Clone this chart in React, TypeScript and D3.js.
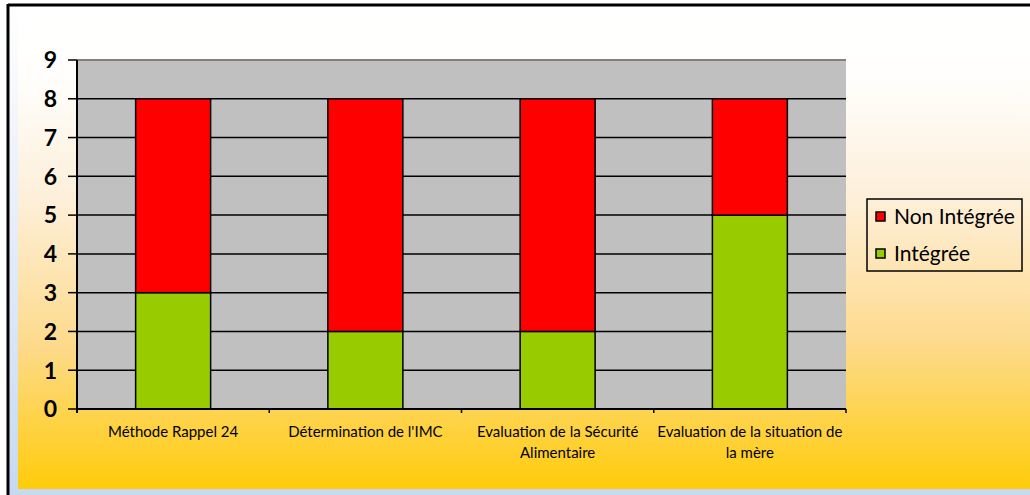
import React from "react";
import * as d3 from "d3";

const categories = [
  "Méthode Rappel 24",
  "Détermination de l'IMC",
  "Evaluation de la Sécurité Alimentaire",
  "Evaluation de la situation de la mère",
];
const integree = [3, 2, 2, 5];
const nonIntegree = [5, 6, 6, 3];
const seriesNames = ["Intégrée", "Non Intégrée"];
const seriesColors = ["#99cc00", "#ff0000"];
const yTicks = [0, 1, 2, 3, 4, 5, 6, 7, 8, 9];

const W = 1030;
const H = 495;
const FONT = "Lato, 'Open Sans', sans-serif";

const plot = { left: 77, right: 846, top: 60, bottom: 409 };

function wrapLabel(text: string, maxWidth: number, font: string): string[] {
  const canvas = document.createElement("canvas");
  const ctx = canvas.getContext("2d");
  if (!ctx) return [text];
  ctx.font = font;
  const words = text.split(" ");
  const lines: string[] = [];
  let line = "";
  for (const w of words) {
    const test = line ? line + " " + w : w;
    if (ctx.measureText(test).width > maxWidth && line) {
      lines.push(line);
      line = w;
    } else {
      line = test;
    }
  }
  if (line) lines.push(line);
  return lines;
}

export default function App() {
  const x = d3
    .scaleBand<string>()
    .domain(categories)
    .range([plot.left, plot.right])
    .paddingInner(0.61)
    .paddingOuter(0.305);
  const y = d3.scaleLinear().domain([0, 9]).range([plot.bottom, plot.top]);

  const rows = categories.map((c, i) => ({ cat: c, integree: integree[i], nonIntegree: nonIntegree[i] }));
  const stacked = d3.stack<any>().keys(["integree", "nonIntegree"])(rows);

  const step = x.step();
  const labelSize = 15;
  const labelFont = `${labelSize}px Lato`;

  return (
    <svg width={W} height={H} style={{ position: "absolute", left: 0, top: 0 }}>
      <defs>
        <linearGradient id="frameGrad" x1="0" y1="0" x2="0" y2="1">
          <stop offset="0" stopColor="#ffffff" />
          <stop offset="1" stopColor="#c6d9f1" />
        </linearGradient>
        <linearGradient id="panelGrad" x1="0" y1="0" x2="0" y2="1">
          <stop offset="0" stopColor="#ffffff" />
          <stop offset="0.15" stopColor="#fffefc" />
          <stop offset="0.4" stopColor="#fdefd9" />
          <stop offset="0.7" stopColor="#fdda8c" />
          <stop offset="1" stopColor="#ffcc0a" />
        </linearGradient>
      </defs>
      <rect x={0} y={0} width={W} height={H} fill="#ffffff" />
      <rect x={8} y={5} width={W - 8} height={H - 5} fill="url(#frameGrad)" />
      <rect x={18} y={5} width={W - 18} height={489 - 5} fill="url(#panelGrad)" />
      <line x1={8} y1={5} x2={W} y2={5} stroke="#000" strokeWidth={3} />
      <line x1={8} y1={4} x2={8} y2={H} stroke="#000" strokeWidth={3} />

      {/* plot area */}
      <rect
        x={plot.left}
        y={plot.top}
        width={plot.right - plot.left}
        height={plot.bottom - plot.top}
        fill="#c0c0c0"
      />
      {yTicks.slice(1, -1).map((t) => (
        <line key={t} x1={plot.left} x2={plot.right} y1={y(t)} y2={y(t)} stroke="#000" strokeWidth={1.5} />
      ))}
      <line x1={plot.left} x2={plot.right} y1={plot.top} y2={plot.top} stroke="#808080" strokeWidth={2} />

      {/* bars */}
      {stacked.map((s, si) =>
        s.map((d, i) => (
          <rect
            key={`${si}-${i}`}
            x={x(categories[i])}
            y={y(d[1])}
            width={x.bandwidth()}
            height={y(d[0]) - y(d[1])}
            fill={seriesColors[si]}
            stroke="#000"
            strokeWidth={1.5}
          />
        ))
      )}

      {/* y axis */}
      <line x1={plot.left} x2={plot.left} y1={plot.top} y2={plot.bottom + 4} stroke="#000" strokeWidth={2} />
      {yTicks.map((t) => (
        <g key={t}>
          <line x1={plot.left - 9} x2={plot.left} y1={y(t)} y2={y(t)} stroke="#000" strokeWidth={1.5} />
          <text
            x={57}
            y={y(t)}
            dy="0.36em"
            textAnchor="end"
            fontFamily={FONT}
            fontWeight={700}
            fontSize={23}
            fill="#000"
          >
            {t}
          </text>
        </g>
      ))}

      {/* x axis */}
      <line x1={plot.left} x2={plot.right} y1={plot.bottom} y2={plot.bottom} stroke="#000" strokeWidth={2} />
      {categories.map((c, i) => {
        const bx = plot.left + step * (i + 1);
        return <line key={c} x1={bx} x2={bx} y1={plot.bottom} y2={plot.bottom + 4} stroke="#000" strokeWidth={1.5} />;
      })}
      {categories.map((c) => {
        const cx = (x(c) as number) + x.bandwidth() / 2;
        const lines = wrapLabel(c, step, labelFont);
        return (
          <text key={c} textAnchor="middle" fontFamily={FONT} fontSize={labelSize} fill="#000">
            {lines.map((l, li) => (
              <tspan key={li} x={cx} y={437 + li * 21}>
                {l}
              </tspan>
            ))}
          </text>
        );
      })}

      {/* legend */}
      <rect x={867} y={199} width={155} height={72} fill="none" stroke="#000" strokeWidth={1.5} />
      {[1, 0].map((si, li) => (
        <g key={si} transform={`translate(876, ${217 + li * 37})`}>
          <rect x={0} y={-5} width={9} height={9} fill={seriesColors[si]} stroke="#000" strokeWidth={1.5} />
          <text x={18} y={0} dy="0.35em" fontFamily={FONT} fontSize={21} fill="#000">
            {seriesNames[si]}
          </text>
        </g>
      ))}
    </svg>
  );
}
